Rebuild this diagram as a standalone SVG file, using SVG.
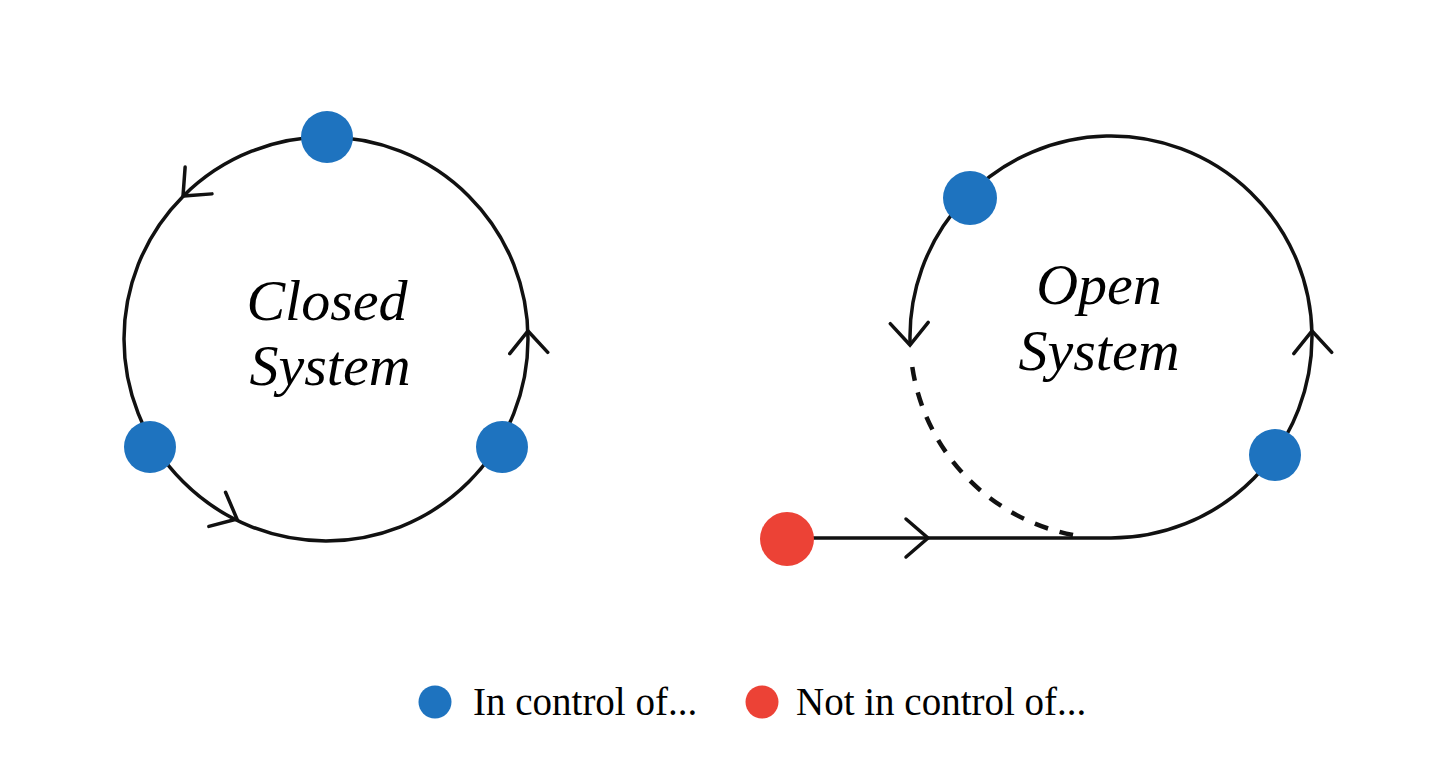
<svg xmlns="http://www.w3.org/2000/svg" width="1456" height="757" viewBox="0 0 1456 757">
<style>
.line{fill:none;stroke:#111;stroke-width:3.5;stroke-linecap:round}
.dash{fill:none;stroke:#111;stroke-width:4.5;stroke-dasharray:14 12}
.chev{fill:none;stroke:#111;stroke-width:3.5;stroke-linecap:round;stroke-linejoin:miter}
.blue{fill:#1e73bf}
.red{fill:#ec4236}
.title{font-family:"Liberation Serif","Times New Roman",serif;font-style:italic;font-size:58px;fill:#000;text-anchor:middle}
.legend{font-family:"Liberation Serif","Times New Roman",serif;font-size:39px;fill:#000}
</style>
<defs>
<path id="chevron" d="M -22 -19 L 0 0 L -22 19"/>
</defs>
<rect width="1456" height="757" fill="#fff"/>
<g id="connectors">
<circle class="line" cx="326" cy="339" r="202"/>
<use href="#chevron" class="chev" transform="translate(183,196) rotate(135)"/>
<use href="#chevron" class="chev" transform="translate(237,519) rotate(26)"/>
<use href="#chevron" class="chev" transform="translate(528,331) rotate(-92)"/>
<path class="line" d="M 787 538 L 1111 538 A 201 201 0 1 0 910.1 344"/>
<path class="dash" d="M 912.3 367 A 201 201 0 0 0 1073 535"/>
<use href="#chevron" class="chev" transform="translate(928,538)"/>
<use href="#chevron" class="chev" transform="translate(910,345) rotate(88)"/>
<use href="#chevron" class="chev" transform="translate(1312,331) rotate(-92)"/>
</g>
<g id="closed-system">
<circle class="blue" cx="327" cy="137" r="26"/>
<circle class="blue" cx="150" cy="447" r="26"/>
<circle class="blue" cx="502" cy="447" r="26"/>
<text class="title" x="327" y="320">Closed</text>
<text class="title" x="330" y="385">System</text>
</g>
<g id="open-system">
<circle class="blue" cx="970" cy="198" r="27"/>
<circle class="blue" cx="1275" cy="455" r="26"/>
<circle class="red" cx="787" cy="539" r="27"/>
<text class="title" x="1099" y="304">Open</text>
<text class="title" x="1099" y="370">System</text>
</g>
<g id="legend">
<circle class="blue" cx="435" cy="702" r="16.5"/>
<text class="legend" x="473" y="715">In control of...</text>
<circle class="red" cx="762" cy="702" r="16.5"/>
<text class="legend" x="796" y="715">Not in control of...</text>
</g>
</svg>
